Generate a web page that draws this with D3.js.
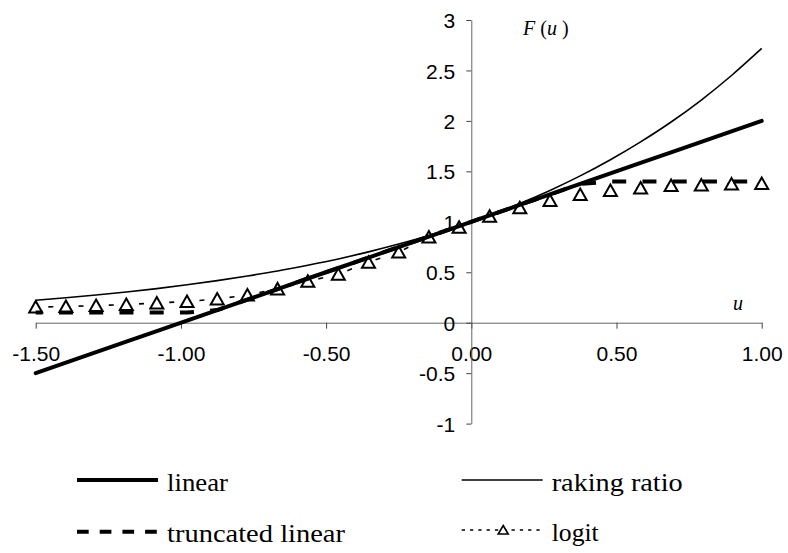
<!DOCTYPE html>
<html>
<head>
<meta charset="utf-8">
<script src="https://cdn.jsdelivr.net/npm/d3@7"></script>
<style>
  body { margin: 0; background: #fff; }
  svg { display: block; font-family: "Liberation Serif", "Times New Roman", serif; }
  svg text.lab { font-family: "Liberation Serif", "Times New Roman", serif; }
  svg .tick text { font-family: "Liberation Sans", Arial, sans-serif; font-size: 21px; }
</style>
</head>
<body>
<div id="chart"></div>
<script>
"use strict";

// u values (25 points from -1.5 to 1)
const uVals = [-1.5, -1.396, -1.292, -1.188, -1.083, -0.979, -0.875, -0.771, -0.667, -0.563,
  -0.458, -0.354, -0.25, -0.146, -0.042, 0.063, 0.167, 0.271, 0.375, 0.479,
  0.583, 0.688, 0.792, 0.896, 1.0];

const linearVals = [-0.5, -0.396, -0.292, -0.188, -0.083, 0.021, 0.125, 0.229, 0.333, 0.438,
  0.542, 0.646, 0.75, 0.854, 0.958, 1.063, 1.167, 1.271, 1.375, 1.479,
  1.583, 1.688, 1.792, 1.896, 2.0];

const rakingVals = [0.223, 0.248, 0.275, 0.305, 0.338, 0.376, 0.417, 0.463, 0.513, 0.57,
  0.632, 0.702, 0.779, 0.864, 0.959, 1.065, 1.181, 1.311, 1.455, 1.615,
  1.792, 1.989, 2.207, 2.45, 2.718];

const truncVals = [0.1, 0.1, 0.1, 0.1, 0.1, 0.1, 0.125, 0.229, 0.333, 0.438,
  0.542, 0.646, 0.75, 0.854, 0.958, 1.063, 1.167, 1.271, 1.375, 1.4,
  1.4, 1.4, 1.4, 1.4, 1.4];

const logitVals = [0.155, 0.16, 0.17, 0.18, 0.195, 0.21, 0.235, 0.275, 0.335, 0.41,
  0.48, 0.6, 0.7, 0.85, 0.945, 1.055, 1.14, 1.21, 1.27, 1.31,
  1.335, 1.36, 1.365, 1.375, 1.38];

const xTicks = [-1.5, -1.0, -0.5, 0, 0.5, 1.0];
const yTicks = [-1, -0.5, 0, 0.5, 1, 1.5, 2, 2.5, 3];

const legendNames = ["linear", "raking ratio", "truncated linear", "logit"];

const width = 788, height = 553;

const svg = d3.select("#chart").append("svg")
  .attr("width", width)
  .attr("height", height);

const x = d3.scaleLinear().domain([-1.5, 1]).range([35.7, 761.7]);
const y = d3.scaleLinear().domain([-1, 3]).range([423.6, 20]);

// axes cross at zero
const xAxis = svg.append("g")
  .attr("transform", `translate(0,${y(0)})`)
  .call(d3.axisBottom(x).tickValues(xTicks).tickFormat(d => d.toFixed(2)).tickSize(6).tickSizeOuter(0));
xAxis.select(".domain").attr("stroke", "#666");
xAxis.selectAll(".tick line").attr("stroke", "#444");
xAxis.selectAll("text")
  .attr("y", 38.5).attr("dy", null)
  .attr("fill", "#000");

const yAxis = svg.append("g")
  .attr("transform", `translate(${x(0)},0)`)
  .call(d3.axisLeft(y).tickValues(yTicks).tickFormat(d => String(d)).tickSize(5).tickPadding(11).tickSizeOuter(0));
yAxis.select(".domain").attr("stroke", "#666");
yAxis.selectAll(".tick line").attr("stroke", "#444");
yAxis.selectAll("text")
  .attr("dy", "0.36em")
  .attr("fill", "#000");

// axis titles
const ft = svg.append("text")
  .attr("class", "lab")
  .attr("x", 523).attr("y", 35)
  .attr("font-size", 20);
ft.append("tspan").attr("font-style", "italic").text("F");
ft.append("tspan").text(" (");
ft.append("tspan").attr("font-style", "italic").text("u");
ft.append("tspan").text(" )");

svg.append("text")
  .attr("class", "lab")
  .attr("x", 733).attr("y", 310)
  .attr("font-size", 20).attr("font-style", "italic")
  .text("u");

const line = vals => d3.line()
  .x((d, i) => x(uVals[i]))
  .y(d => y(d))(vals);

const tri = "M0,-6L6.5,5.5L-6.5,5.5Z";
const triSmall = "M0,-4.5L5,4L-5,4Z";

// logit
svg.append("path")
  .attr("d", line(logitVals))
  .attr("fill", "none").attr("stroke", "#000").attr("stroke-width", 1.6)
  .attr("stroke-dasharray", "5,25.25").attr("stroke-dashoffset", 17.6);

svg.append("g").selectAll("path")
  .data(logitVals)
  .join("path")
  .attr("d", tri)
  .attr("transform", (d, i) => `translate(${x(uVals[i])},${y(d)})`)
  .attr("fill", "#fff").attr("stroke", "#000").attr("stroke-width", 2);

// truncated linear
svg.append("path")
  .attr("d", line(truncVals))
  .attr("fill", "none").attr("stroke", "#000").attr("stroke-width", 4)
  .attr("stroke-dasharray", "14,16.25").attr("stroke-dashoffset", 7);

// raking ratio
svg.append("path")
  .attr("d", d3.line().x((d, i) => x(uVals[i])).y(d => y(d)).curve(d3.curveMonotoneX)(rakingVals))
  .attr("fill", "none").attr("stroke", "#000").attr("stroke-width", 1.6);

// linear
svg.append("path")
  .attr("d", line(linearVals))
  .attr("fill", "none").attr("stroke", "#000").attr("stroke-width", 4)
  .attr("stroke-linecap", "round");

// legend
const legend = svg.append("g");
const items = [
  {x: 77, y: 480, w: 4, dash: null, tl: 61},
  {x: 461.7, y: 480, w: 1.6, dash: null, tl: 131},
  {x: 77, y: 531.7, w: 4, dash: "11.7,11", tl: 178},
  {x: 461.7, y: 530, w: 1.6, dash: "3.3,5", tl: 47}
];
items.forEach((it, i) => {
  legend.append("line")
    .attr("x1", it.x).attr("x2", it.x + 81)
    .attr("y1", it.y).attr("y2", it.y)
    .attr("stroke", "#000").attr("stroke-width", it.w)
    .attr("stroke-dasharray", it.dash);
  if (i === 3) {
    legend.append("path")
      .attr("d", triSmall)
      .attr("transform", `translate(${it.x + 41.5},${it.y})`)
      .attr("fill", "#fff").attr("stroke", "#000").attr("stroke-width", 1.6);
  }
  legend.append("text")
    .attr("class", "lab")
    .attr("x", it.x + 90).attr("y", it.y + 10.5)
    .attr("font-size", 26)
    .attr("textLength", it.tl).attr("lengthAdjust", "spacingAndGlyphs")
    .text(legendNames[i]);
});
</script>
</body>
</html>
